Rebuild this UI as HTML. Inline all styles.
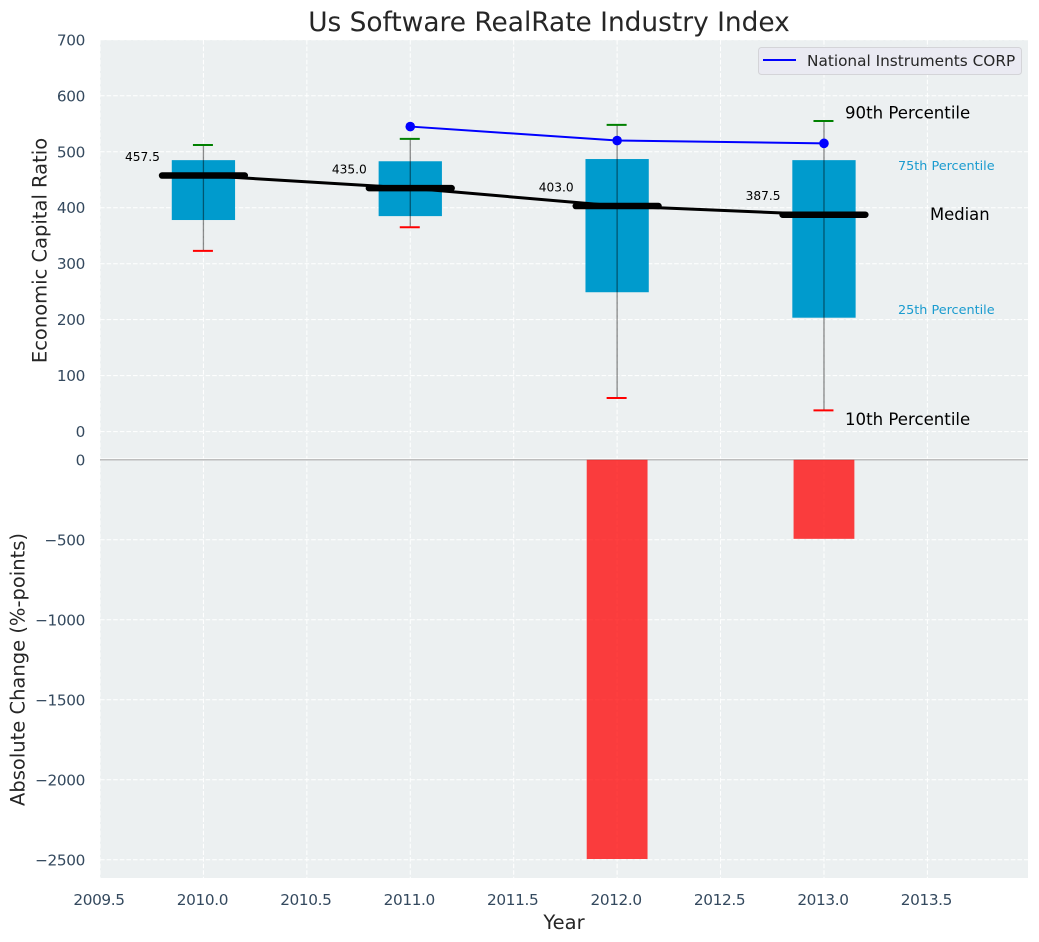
<!DOCTYPE html>
<html lang="en">
<head>
<meta charset="utf-8">
<title>Us Software RealRate Industry Index</title>
<style>
html,body{margin:0;padding:0;background:#fff;width:1039px;height:942px;overflow:hidden}
svg{display:block}
text{font-family:"DejaVu Sans","Liberation Sans",sans-serif}
.tick{font-size:15.3px;letter-spacing:-0.37px;fill:#34495e}
.axt{font-size:19.5px;fill:#262626}
</style>
</head>
<body>
<svg id="chart" xmlns="http://www.w3.org/2000/svg" width="1039" height="942" viewBox="0 0 1039 942">
<rect x="100" y="40" width="928" height="419.5" fill="#ecf0f1"/>
<rect x="100" y="459.5" width="928" height="418.5" fill="#ecf0f1"/>
<g id="grid"></g>
<g id="marks"></g>
<g id="labels"></g>
<text x="549" y="31" text-anchor="middle" font-size="26.4" fill="#262626">Us Software RealRate Industry Index</text>
<text class="axt" text-anchor="middle" transform="translate(46.5,250.5) rotate(-90)">Economic Capital Ratio</text>
<text class="axt" text-anchor="middle" transform="translate(24.5,669.5) rotate(-90)">Absolute Change (%-points)</text>
<text class="axt" x="564" y="929" text-anchor="middle">Year</text>
<g>
<rect x="758.5" y="47.5" width="263" height="27" rx="3" fill="#eaeaf2" stroke="#d4d4d8" stroke-width="1"/>
<line x1="763" x2="796" y1="60" y2="60" stroke="#0000ff" stroke-width="2"/>
<text x="807" y="66" font-size="15.3" fill="#262626">National Instruments CORP</text>
</g>
</svg>
<script>
const years = [2010, 2011, 2012, 2013];
const p90 = [512, 523, 548, 555];
const p75 = [485, 483, 487, 485];
const medians = [457.5, 435.0, 403.0, 387.5];
const p25 = [378, 385, 249, 203.5];
const p10 = [323, 365, 60, 38];
const companyYears = [2011, 2012, 2013];
const companyValues = [545, 520, 515];
const changeYears = [2012, 2013];
const changeValues = [-2495, -494];
const xTicks = [2009.5, 2010.0, 2010.5, 2011.0, 2011.5, 2012.0, 2012.5, 2013.0, 2013.5];
const yTopTicks = [0, 100, 200, 300, 400, 500, 600, 700];
const yBottomTicks = [0, -500, -1000, -1500, -2000, -2500];

const NS = 'http://www.w3.org/2000/svg';
const xScale = v => 100 + (v - 2009.5) * 206.85;
const yTop = v => 431.6 - v * 0.5597;
const yBottom = v => 459.8 - v * 0.16;
const BOX_HALF = 0.153;
const BAR_HALF = 0.147;
const MEDIAN_HALF = 0.2;
const CAP_HALF = 10;

const gridG = document.getElementById('grid');
const marksG = document.getElementById('marks');
const labelsG = document.getElementById('labels');

function mk(parent, tag, attrs, txt) {
  const el = document.createElementNS(NS, tag);
  for (const k in attrs) el.setAttribute(k, attrs[k]);
  if (txt !== undefined) el.textContent = txt;
  parent.appendChild(el);
  
  return el;
}
const gridStyle = {stroke: '#ffffff', 'stroke-width': 1, 'stroke-dasharray': '4.6,2', fill: 'none'};

xTicks.forEach(t => {
  const x = xScale(t);
  const g1 = mk(gridG, 'line', Object.assign({x1: x, x2: x, y1: 40, y2: 459}, gridStyle));
  
  const g2 = mk(gridG, 'line', Object.assign({x1: x, x2: x, y1: 461, y2: 878}, gridStyle));
  
  const lab = mk(labelsG, 'text', {x: x - 1, y: 905, 'text-anchor': 'middle', class: 'tick'}, t.toFixed(1));
  
});
yTopTicks.forEach(t => {
  const y = yTop(t);
  const g = mk(gridG, 'line', Object.assign({x1: 100, x2: 1028, y1: y, y2: y}, gridStyle));
  
  const lab = mk(labelsG, 'text', {x: 85, y: y + 5.5, 'text-anchor': 'end', class: 'tick'}, String(t));
  
});
yBottomTicks.forEach(t => {
  const y = yBottom(t);
  if (t !== 0) {
    const g = mk(gridG, 'line', Object.assign({x1: 100, x2: 1028, y1: y, y2: y}, gridStyle));
    
  }
  const lab = mk(labelsG, 'text', {x: 85, y: y + 5.5, 'text-anchor': 'end', class: 'tick'}, String(t).replace('-', '\u2212'));
  
});

const sepWhite = mk(marksG, 'line', {x1: 100, x2: 1028, y1: 458.8, y2: 458.8, stroke: '#ffffff', 'stroke-width': 1.2});

const zeroLine = mk(marksG, 'line', {x1: 100, x2: 1028, y1: yBottom(0), y2: yBottom(0), stroke: '#bdbdbd', 'stroke-width': 1.5});


changeValues.forEach((v, i) => {
  const x0 = xScale(changeYears[i] - BAR_HALF);
  const x1 = xScale(changeYears[i] + BAR_HALF);
  const y0 = yBottom(0);
  const y1 = yBottom(v);
  const bar = mk(marksG, 'rect', {x: x0, y: y0, width: x1 - x0, height: y1 - y0, fill: '#ff0000', 'fill-opacity': 0.75});
  
});

years.forEach((yr, i) => {
  const x0 = xScale(yr - BOX_HALF);
  const x1 = xScale(yr + BOX_HALF);
  const box = mk(marksG, 'rect', {x: x0, y: yTop(p75[i]), width: x1 - x0, height: yTop(p25[i]) - yTop(p75[i]), fill: '#009bcd'});
  
});

const medianPath = mk(marksG, 'polyline', {
  points: years.map((yr, i) => xScale(yr) + ',' + yTop(medians[i])).join(' '),
  fill: 'none', stroke: '#000000', 'stroke-width': 3, 'stroke-linejoin': 'round'
});


years.forEach((yr, i) => {
  const x = xScale(yr);
  const whisker = mk(marksG, 'line', {x1: x, x2: x, y1: yTop(p90[i]), y2: yTop(p10[i]), stroke: '#000000', 'stroke-opacity': 0.45, 'stroke-width': 1.3});
  
  const capTop = mk(marksG, 'line', {x1: x - CAP_HALF - 0.5, x2: x + CAP_HALF - 0.5, y1: yTop(p90[i]), y2: yTop(p90[i]), stroke: '#008000', 'stroke-width': 2});
  
  const capBottom = mk(marksG, 'line', {x1: x - CAP_HALF - 0.5, x2: x + CAP_HALF - 0.5, y1: yTop(p10[i]), y2: yTop(p10[i]), stroke: '#ff0000', 'stroke-width': 2});
  
  const med = mk(marksG, 'line', {x1: xScale(yr - MEDIAN_HALF), x2: xScale(yr + MEDIAN_HALF), y1: yTop(medians[i]), y2: yTop(medians[i]), stroke: '#000000', 'stroke-width': 6.5, 'stroke-linecap': 'round'});
  
  const val = mk(marksG, 'text', {x: x - 43.5, y: yTop(medians[i]) - 14.5, 'text-anchor': 'end', 'font-size': 12.2, fill: '#000000'}, medians[i].toFixed(1));
  
});

const companyLine = mk(marksG, 'polyline', {
  points: companyYears.map((yr, i) => xScale(yr) + ',' + yTop(companyValues[i])).join(' '),
  fill: 'none', stroke: '#0000ff', 'stroke-width': 2
});

companyYears.forEach((yr, i) => {
  const dot = mk(marksG, 'circle', {cx: xScale(yr), cy: yTop(companyValues[i]), r: 4.8, fill: '#0000ff'});
  
});

const last = years.length - 1;
const lx = xScale(years[last]);
const t90 = mk(marksG, 'text', {x: lx + 21, y: yTop(p90[last]) - 2.5, 'font-size': 16.6, fill: '#000000'}, '90th Percentile');

const t75 = mk(marksG, 'text', {x: lx + 74, y: yTop(p75[last]) + 10, 'font-size': 12.8, fill: '#1a9bcf'}, '75th Percentile');

const tMed = mk(marksG, 'text', {x: lx + 106, y: yTop(medians[last]) + 5.5, 'font-size': 16.4, fill: '#000000'}, 'Median');

const t25 = mk(marksG, 'text', {x: lx + 74, y: yTop(p25[last]) - 3.5, 'font-size': 12.8, fill: '#1a9bcf'}, '25th Percentile');

const t10 = mk(marksG, 'text', {x: lx + 21, y: yTop(p10[last]) + 14.5, 'font-size': 16.6, fill: '#000000'}, '10th Percentile');

</script>
</body>
</html>
